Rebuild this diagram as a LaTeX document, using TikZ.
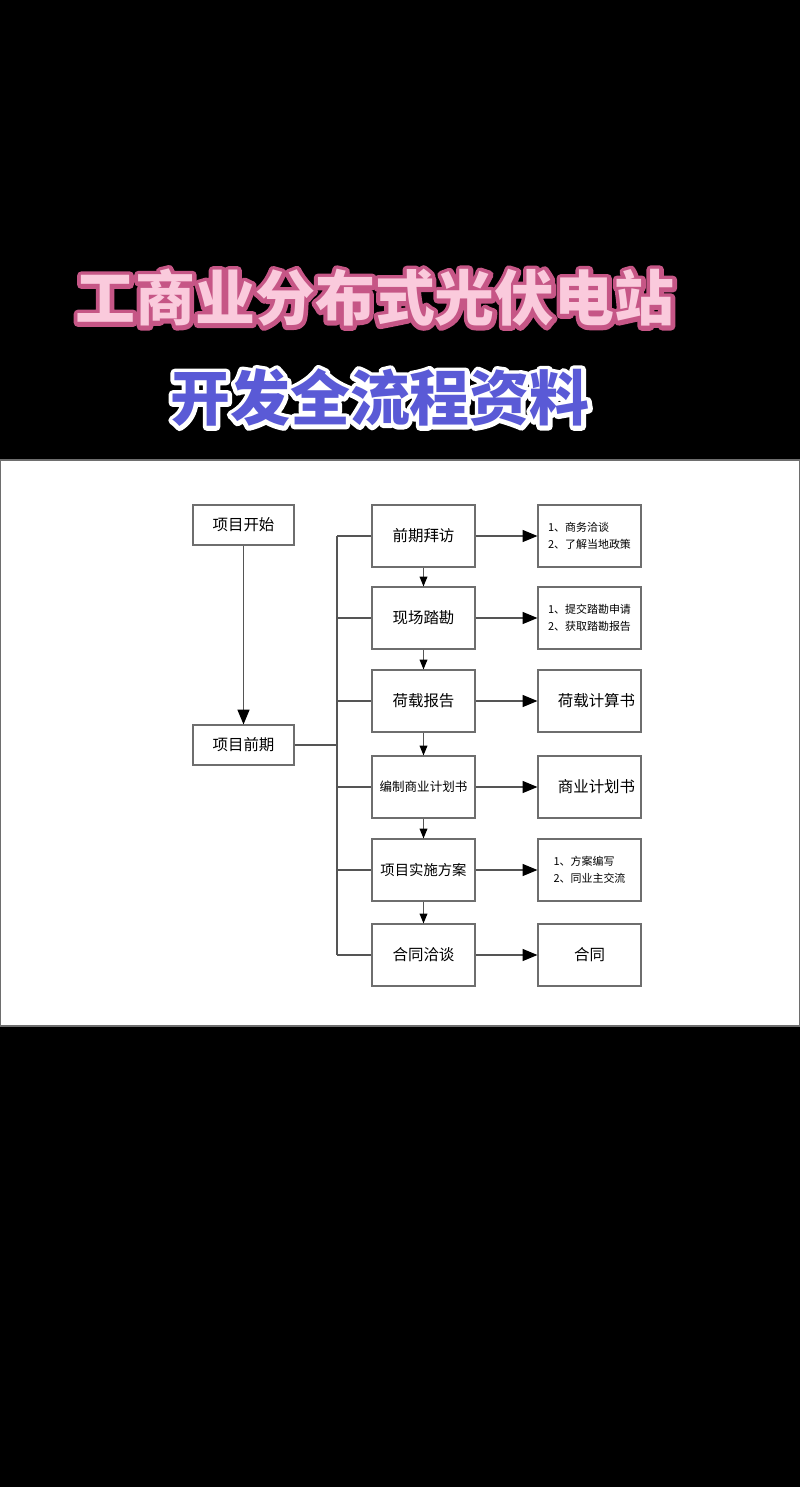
\documentclass[tikz,border=0pt]{standalone}
\usepackage{fontspec}
\setmainfont{Noto Sans CJK SC}
\usepackage{xcolor}
\definecolor{pvpink}{RGB}{250,202,220}
\definecolor{pvrose}{RGB}{198,86,134}
\definecolor{pvblue}{RGB}{90,90,214}
\definecolor{pvline}{RGB}{85,85,85}
\definecolor{pvframe}{RGB}{110,110,110}
\usepackage{tikz}
\usetikzlibrary{arrows.meta, positioning, calc}

% stroked text for the title outlines
\newcommand{\pvedge}[2]{\special{pdf:code 1 Tr 6 w 1 j #1 RG}#2\special{pdf:code 0 Tr}}

\tikzset{
  headbox/.style={draw=pvframe, line width=0.8pt, fill=white, minimum width=2.525cm, minimum height=1cm, inner sep=0pt, font=\fontsize{11}{13}\selectfont},
  stagebox/.style={draw=pvframe, line width=0.8pt, fill=white, minimum width=2.575cm, minimum height=1.55cm, inner sep=0pt, font=\fontsize{11}{13}\selectfont},
  notebox/.style={stagebox, align=left, font=\fontsize{7.8}{12}\selectfont},
  link/.style={draw=pvline, line width=0.85pt},
  bigtip/.style={link, -{Triangle[length=10.5pt, width=8.5pt, color=black]}},
  smalltip/.style={link, -{Triangle[length=7pt, width=5.5pt, color=black]}},
  toptitle/.style={font=\fontsize{42.6}{43}\selectfont\bfseries},
  subtitle/.style={font=\fontsize{42.6}{43}\selectfont\bfseries}
}

\begin{document}
\begin{tikzpicture}[x=0.025cm, y=-0.025cm]
  \useasboundingbox (0,0) rectangle (800,1487);
  \fill[black] (0,0) rectangle (800,1487);
  \draw[fill=white, draw=pvframe, line width=0.8pt] (0,460) rectangle (800,1026);

  % titles
  \node[toptitle] (title-edge) at (375,298) {\pvedge{0.776 0.337 0.525}{工商业分布式光伏电站}};
  \node[toptitle, text=pvpink] (title) at (title-edge) {工商业分布式光伏电站};
  \node[subtitle] (subtitle-edge) at (380,398) {\pvedge{1 1 1}{开发全流程资料}};
  \node[subtitle, text=pvblue] (subtitle) at (subtitle-edge) {开发全流程资料};

  % left column
  \node[headbox] (start) at (243.5,525) {项目开始};
  \node[headbox] (early) at (243.5,745) {项目前期};

  % stages
  \node[stagebox] (visit) at (423.5,536) {前期拜访};
  \node[stagebox] (survey) at (423.5,618) {现场踏勘};
  \node[stagebox] (load) at (423.5,701) {荷载报告};
  \node[stagebox, font=\fontsize{8.9}{11}\selectfont] (plan) at (423.5,787) {编制商业计划书};
  \node[stagebox, font=\fontsize{10.2}{12}\selectfont] (scheme) at (423.5,870) {项目实施方案};
  \node[stagebox] (talks) at (423.5,955) {合同洽谈};

  % results
  \node[notebox] (visit-out) at (589.5,536) {1、商务洽谈\\2、了解当地政策};
  \node[notebox] (survey-out) at (589.5,618) {1、提交踏勘申请\\2、获取踏勘报告};
  \node[stagebox] (load-out) at (589.5,701) {\hspace{0.35cm}荷载计算书};
  \node[stagebox] (plan-out) at (589.5,787) {\hspace{0.35cm}商业计划书};
  \node[notebox] (scheme-out) at (589.5,870) {1、方案编写\\2、同业主交流};
  \node[stagebox] (talks-out) at (589.5,955) {合同};

  \draw[bigtip] (start) -- (early);

  % bus to the stages
  \coordinate (bustop) at (337,536);
  \coordinate (busbot) at (337,955);
  \draw[link] (bustop) -- (busbot);
  \draw[link] (early) -- (early -| bustop);
  \foreach \s in {visit,survey,load,plan,scheme,talks}
    \draw[link] (\s.west -| bustop) -- (\s.west);

  \draw[smalltip] (visit) -- (survey);
  \draw[smalltip] (survey) -- (load);
  \draw[smalltip] (load) -- (plan);
  \draw[smalltip] (plan) -- (scheme);
  \draw[smalltip] (scheme) -- (talks);

  \foreach \s in {visit,survey,load,plan,scheme,talks}
    \draw[bigtip] (\s) -- (\s-out);
\end{tikzpicture}
\end{document}
